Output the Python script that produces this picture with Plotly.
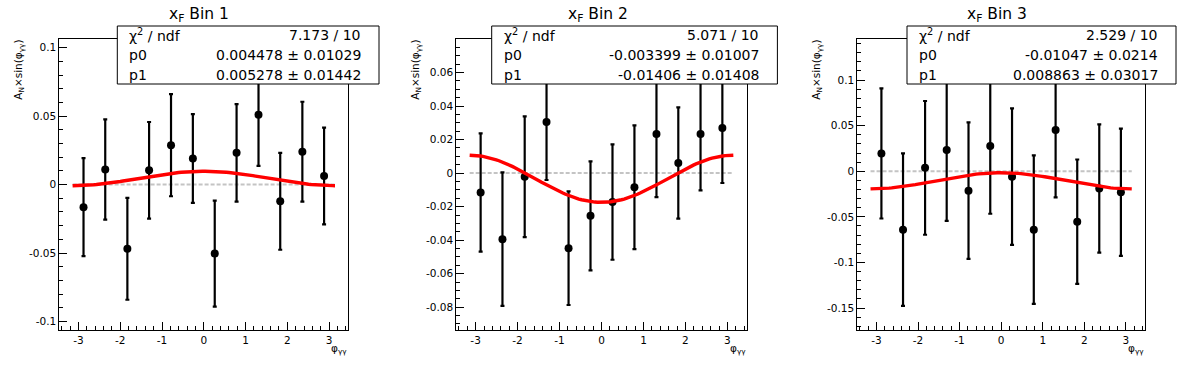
import numpy as np
import plotly.graph_objects as go

W, H = 1196, 372

# ---------------- data ----------------
phi = [-2.88, -2.36, -1.83, -1.31, -0.785, -0.262, 0.262, 0.785, 1.31, 1.83, 2.36, 2.88]

an_bin1 = [-0.0165, 0.0110, -0.0469, 0.0104, 0.0288, 0.0190, -0.0504, 0.0232, 0.0510, -0.0122, 0.0240, 0.0063]
err_bin1 = [0.0358, 0.0366, 0.0372, 0.0353, 0.0373, 0.0324, 0.0387, 0.0356, 0.0373, 0.0354, 0.0365, 0.0353]

an_bin2 = [-0.0116, -0.0394, -0.0022, 0.0305, -0.0448, -0.0255, -0.0173, -0.0084, 0.0233, 0.0060, 0.0233, 0.0269]
err_bin2 = [0.0353, 0.0398, 0.0360, 0.0346, 0.0339, 0.0325, 0.0344, 0.0369, 0.0376, 0.0332, 0.0336, 0.0328]

an_bin3 = [0.0195, -0.0640, 0.0037, 0.0232, -0.0213, 0.0276, -0.0059, -0.0640, 0.0452, -0.0553, -0.0189, -0.0230]
err_bin3 = [0.0713, 0.0835, 0.0733, 0.0775, 0.0748, 0.0742, 0.0748, 0.0813, 0.0739, 0.0682, 0.0702, 0.0697]

titles = ["x<sub>F</sub> Bin 1", "x<sub>F</sub> Bin 2", "x<sub>F</sub> Bin 3"]
chi2_text = ["7.173 / 10", "5.071 / 10", "2.529 / 10"]
p0_val = [0.004478, -0.003399, -0.01047]
p1_val = [0.005278, -0.01406, 0.008863]
p0_text = ["0.004478", "-0.003399", "-0.01047"]
p0_err_text = ["0.01029", "0.01007", "0.0214"]
p1_text = ["0.005278", "-0.01406", "0.008863"]
p1_err_text = ["0.01442", "0.01408", "0.03017"]

x_tickvals = [-3, -2, -1, 0, 1, 2, 3]
x_ticktext = ["-3", "-2", "-1", "0", "1", "2", "3"]
y_tickvals = [
    [-0.1, -0.05, 0, 0.05, 0.1],
    [-0.08, -0.06, -0.04, -0.02, 0, 0.02, 0.04, 0.06],
    [-0.15, -0.1, -0.05, 0, 0.05, 0.1],
]
y_ticktext = [
    ["-0.1", "-0.05", "0", "0.05", "0.1"],
    ["-0.08", "-0.06", "-0.04", "-0.02", "0", "0.02", "0.04", "0.06"],
    ["-0.15", "-0.1", "-0.05", "0", "0.05", "0.1"],
]
y_ranges = [[-0.1062, 0.1067], [-0.0936, 0.0803], [-0.174, 0.1455]]
y_minor = [0.01, 0.005, 0.01]
x_range = [-3.46, 3.46]

ys = [an_bin1, an_bin2, an_bin3]
errs = [err_bin1, err_bin2, err_bin3]

# ---------------- layout geometry (window pixels) ----------------
frame_l = [59.3, 456.3, 857.3]
frame_r = [348.3, 746.7, 1145.0]
frame_t, frame_b = 38.5, 330.0
pad_l = [0.0, 398.67, 797.33]
box_l = [117.3, 491.7, 907.0]
box_r = [379.0, 777.4, 1176.0]
box_t, box_b = 26.0, 84.0
row_y = [35.0, 55.5, 75.5]

def px(x):
    return x / W

def py(y):
    return 1 - y / H

FONT = "DejaVu Sans, Verdana, sans-serif"

fig = go.Figure()
annotations = []
shapes = []

for i in range(3):
    xa = "x" if i == 0 else f"x{i+1}"
    ya = "y" if i == 0 else f"y{i+1}"

    # dashed zero line
    fig.add_trace(go.Scatter(
        x=[-np.pi, np.pi], y=[0, 0], mode="lines",
        line=dict(color="#c4c4c4", width=2, dash="4px,2px"),
        xaxis=xa, yaxis=ya, showlegend=False, hoverinfo="skip"))

    # data points
    fig.add_trace(go.Scatter(
        x=phi, y=ys[i], mode="markers",
        marker=dict(color="black", size=8, symbol="circle"),
        error_y=dict(type="data", array=errs[i], visible=True,
                     color="black", thickness=2.2, width=2),
        xaxis=xa, yaxis=ya, showlegend=False))

    # fit curve p0 + p1*cos(phi)
    xf = np.linspace(-np.pi, np.pi, 100)
    yf = p0_val[i] + p1_val[i] * np.cos(xf)
    fig.add_trace(go.Scatter(
        x=xf, y=yf, mode="lines",
        line=dict(color="#ff0000", width=3.4),
        xaxis=xa, yaxis=ya, showlegend=False, hoverinfo="skip"))

    axis_common = dict(
        showline=True, linecolor="black", linewidth=1, mirror=True,
        ticks="inside", ticklen=8, tickwidth=1, tickcolor="black",
        showgrid=False, zeroline=False,
        tickfont=dict(family=FONT, size=10.5, color="black"),
    )
    fig.update_layout(**{
        ("xaxis" if i == 0 else f"xaxis{i+1}"): dict(
            domain=[px(frame_l[i]), px(frame_r[i])],
            anchor=ya, range=x_range,
            tickmode="array", tickvals=x_tickvals, ticktext=x_ticktext,
            minor=dict(ticks="inside", ticklen=4, tickcolor="black",
                       tickmode="linear", tick0=0, dtick=0.2),
            **axis_common),
        ("yaxis" if i == 0 else f"yaxis{i+1}"): dict(
            domain=[py(frame_b), py(frame_t)],
            anchor=xa, range=y_ranges[i],
            tickmode="array", tickvals=y_tickvals[i], ticktext=y_ticktext[i],
            minor=dict(ticks="inside", ticklen=4, tickcolor="black",
                       tickmode="linear", tick0=0, dtick=y_minor[i]),
            **axis_common),
    })

    # title
    annotations.append(dict(
        x=px(pad_l[i] + 199.3), y=py(15.5), xref="paper", yref="paper",
        text=titles[i], showarrow=False, xanchor="center", yanchor="middle",
        font=dict(family=FONT, size=15.5, color="black")))

    # y-axis title
    annotations.append(dict(
        x=px(frame_l[i] - 41), y=py(frame_t - 1), xref="paper", yref="paper",
        text="A<sub>N</sub>×sin(φ<sub>γγ</sub>)", textangle=-90,
        showarrow=False, xanchor="center", yanchor="top",
        font=dict(family=FONT, size=10.5, color="black")))

    # x-axis title
    annotations.append(dict(
        x=px(frame_r[i] + 1), y=py(349), xref="paper", yref="paper",
        text="φ<sub>γγ</sub>", showarrow=False, xanchor="right", yanchor="middle",
        font=dict(family=FONT, size=10.5, color="black")))

    # stats box
    shapes.append(dict(
        type="rect", xref="paper", yref="paper", layer="above",
        x0=px(box_l[i]), x1=px(box_r[i]), y0=py(box_b), y1=py(box_t),
        fillcolor="white", line=dict(color="black", width=1)))
    labels = ["χ<sup>2</sup> / ndf", "p0", "p1"]
    values = [chi2_text[i],
              f"{p0_text[i]} ± {p0_err_text[i]}",
              f"{p1_text[i]} ± {p1_err_text[i]}"]
    for r in range(3):
        annotations.append(dict(
            x=px(box_l[i] + 10), y=py(row_y[r]), xref="paper", yref="paper",
            text=labels[r], showarrow=False, xanchor="left", yanchor="middle",
            font=dict(family=FONT, size=14, color="black")))
        annotations.append(dict(
            x=px(box_r[i] - 16), y=py(row_y[r]), xref="paper", yref="paper",
            text=values[r], showarrow=False, xanchor="right", yanchor="middle",
            font=dict(family=FONT, size=14, color="black")))

fig.update_layout(
    width=W, height=H,
    margin=dict(l=0, r=0, t=0, b=0, pad=0),
    paper_bgcolor="white", plot_bgcolor="white",
    showlegend=False,
    annotations=annotations, shapes=shapes,
    font=dict(family=FONT, color="black"),
)

fig.write_html("out.html",
               config={"displayModeBar": False},
               post_script="document.body.style.margin='0';document.body.style.padding='0';")
